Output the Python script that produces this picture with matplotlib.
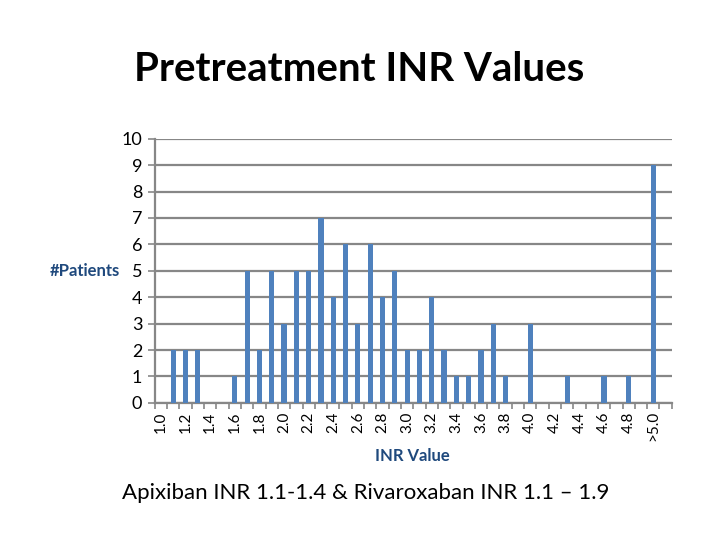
import matplotlib
matplotlib.use("Agg")
import matplotlib.pyplot as plt
import numpy as np

plt.rcParams['font.family'] = ['Lato', 'DejaVu Sans']

# INR categories 1.0 .. 4.9 in steps of 0.1, then >5.0
categories = ["%.1f" % (v / 10) for v in range(10, 50)] + [">5.0"]
patients = [0, 2, 2, 2, 0, 0, 1, 5, 2, 5,
            3, 5, 5, 7, 4, 6, 3, 6, 4, 5,
            2, 2, 4, 2, 1, 1, 2, 3, 1, 0,
            3, 0, 0, 1, 0, 0, 1, 0, 1, 0,
            9]
y_ticks = list(range(0, 11))

bar_color = "#4F81BD"
grid_color = "#878787"
label_color = "#1F497D"

fig = plt.figure(figsize=(7.2, 5.4), dpi=100)
ax = fig.add_axes([0.215, 0.254, 0.718, 0.489])

x = np.arange(len(categories))
ax.bar(x, patients, width=0.42, color=bar_color, zorder=3)

# one empty slot after the last category, as in the original chart
ax.set_xlim(-0.5, len(categories) + 0.5)
ax.set_ylim(0, 10)
ax.set_yticks(y_ticks)
ax.set_yticklabels([str(t) for t in y_ticks], fontsize=13)
ax.yaxis.grid(True, color=grid_color, linewidth=1.6, zorder=0)

# labels every other category, tick marks on category boundaries
ax.set_xticks(x[::2])
ax.set_xticklabels(categories[::2], rotation=90, fontsize=11)
ax.set_xticks(np.arange(-0.5, len(categories) + 1, 1), minor=True)
ax.tick_params(axis='x', which='major', length=0, pad=6)
ax.tick_params(axis='x', which='minor', length=4, color=grid_color, width=1.2)
ax.tick_params(axis='y', length=5, color=grid_color, width=1.2, pad=4)

for side in ['top', 'right']:
    ax.spines[side].set_visible(False)
ax.spines['left'].set_color(grid_color)
ax.spines['left'].set_linewidth(1.6)
ax.spines['bottom'].set_color(grid_color)
ax.spines['bottom'].set_linewidth(1.6)

fig.text(0.499, 0.872, "Pretreatment INR Values", ha='center', va='center',
         fontsize=29, fontweight='bold')
fig.text(0.166, 0.498, "#Patients", ha='right', va='center',
         fontsize=12, fontweight='bold', color=label_color)
fig.text(0.573, 0.155, "INR Value", ha='center', va='center',
         fontsize=12, fontweight='bold', color=label_color)
fig.text(0.508, 0.087, "Apixiban INR 1.1-1.4 & Rivaroxaban INR 1.1 \u2013 1.9",
         ha='center', va='center', fontsize=16)

fig.savefig("out.png", dpi=100)
